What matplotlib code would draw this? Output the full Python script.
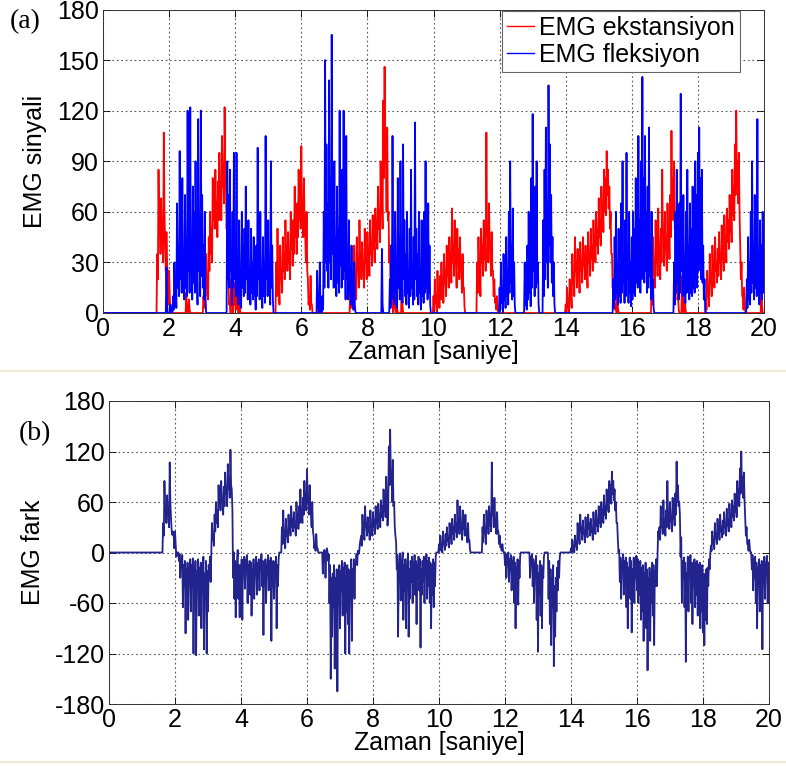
import matplotlib
matplotlib.use('Agg')
import numpy as np
import matplotlib.pyplot as plt

# ---------------- data ----------------
# Each burst is read as pairs: the upper value ("peak") and the lower value ("low")
# of the dense band, every 0.04 s; together they give one sample every 0.02 s.
dt = 0.02
n_samples = 1001
time = np.arange(n_samples) * dt

# extension (red) bursts: start time [s]
ext_starts = [1.60, 2.48, 3.00, 5.20, 6.48, 7.44, 9.00, 9.96, 11.28, 13.96, 16.56, 17.48, 18.20, 19.88]
ext_peaks = [
    [0, 35, 85, 55, 68, 45, 107, 40, 48, 20, 25, 0],
    [0, 12, 0, 8, 0],
    [0, 10, 25, 35, 20, 45, 60, 50, 80, 70, 85, 65, 78, 95, 75, 105, 88, 122, 75, 60,
     15, 8, 20, 5, 18, 10, 15, 5, 12, 0],
    [0, 30, 50, 15, 40, 25, 45, 35, 55, 40, 48, 35, 60, 45, 55, 75, 50, 65, 85, 70,
     99, 65, 80, 45, 60, 20, 10, 22, 5, 0],
    [0, 8, 0, 5, 0],
    [0, 12, 25, 8, 40, 20, 45, 28, 55, 35, 42, 30, 50, 35, 48, 38, 55, 42, 58, 45,
     62, 55, 75, 60, 90, 70, 126, 146, 95, 110, 60, 40, 20, 5, 18, 3, 15, 0],
    [0, 25, 0],
    [0, 10, 20, 8, 25, 12, 22, 30, 18, 35, 25, 40, 30, 45, 35, 62, 40, 55, 30, 50,
     38, 45, 28, 35, 15, 0],
    [0, 30, 45, 25, 50, 40, 55, 45, 107, 50, 65, 40, 48, 25, 20, 8, 10, 0],
    [0, 5, 15, 3, 20, 10, 35, 20, 45, 30, 38, 25, 42, 30, 45, 35, 40, 28, 48, 35,
     50, 40, 55, 45, 60, 50, 68, 55, 75, 65, 85, 80, 96, 85, 75, 60, 35, 20, 10, 5, 12, 0],
    [0, 20, 45, 30, 55, 40, 62, 35, 50, 85, 45, 60, 40, 65, 50, 70, 108, 80, 90, 55, 25, 10, 0],
    [0, 22, 0, 15, 0],
    [0, 8, 25, 12, 35, 20, 40, 28, 45, 30, 38, 48, 35, 52, 40, 58, 45, 62, 55, 70,
     60, 85, 75, 100, 120, 90, 95, 40, 30, 10, 15, 0],
    [0, 20, 0],
]
ext_lows = [
    [0, 20, 50, 35, 45, 30, 60, 25, 30, 5, 10, 0],
    [0, 3, 0, 2, 0],
    [0, 3, 10, 15, 8, 25, 35, 30, 55, 50, 60, 45, 55, 70, 55, 75, 65, 80, 50, 20,
     5, 0, 8, 0, 5, 2, 6, 0, 3, 0],
    [0, 10, 20, 5, 20, 12, 25, 20, 30, 25, 30, 20, 38, 28, 35, 45, 35, 45, 55, 50,
     60, 45, 50, 30, 25, 5, 2, 6, 0, 0],
    [0, 2, 0, 1, 0],
    [0, 3, 10, 2, 20, 8, 25, 15, 30, 20, 25, 15, 30, 20, 30, 22, 35, 28, 38, 30,
     42, 38, 50, 42, 60, 50, 80, 90, 60, 55, 30, 15, 5, 0, 4, 0, 3, 0],
    [0, 5, 0],
    [0, 2, 6, 0, 10, 3, 8, 14, 6, 18, 10, 22, 15, 25, 18, 30, 22, 30, 15, 28,
     20, 25, 12, 15, 3, 0],
    [0, 12, 25, 10, 30, 22, 32, 25, 45, 30, 38, 22, 25, 10, 6, 2, 3, 0],
    [0, 0, 5, 0, 8, 3, 18, 10, 25, 15, 22, 12, 25, 18, 28, 20, 25, 15, 30, 22,
     32, 25, 35, 30, 40, 35, 45, 40, 52, 48, 60, 58, 70, 62, 50, 35, 15, 6, 2, 0, 3, 0],
    [0, 5, 22, 15, 30, 22, 35, 20, 30, 45, 28, 38, 25, 40, 32, 45, 60, 55, 50, 30, 8, 2, 0],
    [0, 5, 0, 3, 0],
    [0, 2, 10, 4, 18, 10, 22, 15, 25, 18, 22, 30, 20, 32, 25, 38, 30, 42, 38, 48,
     42, 58, 55, 70, 75, 65, 60, 20, 10, 2, 4, 0],
    [0, 4, 0],
]

# flexion (blue) bursts
flex_starts = [1.92, 3.72, 6.44, 8.40, 8.64, 11.96, 12.72, 13.28, 15.40, 17.24, 19.44]
flex_peaks = [
    [27, 0, 0, 5, 0, 10, 30, 15, 65, 40, 96, 50, 80, 35, 70, 45, 120, 55, 122, 40,
     75, 60, 90, 30, 115, 50, 120, 70, 40, 60, 0],
    [0, 90, 70, 85, 30, 60, 95, 45, 95, 30, 55, 20, 60, 40, 50, 75, 35, 55, 25, 50,
     30, 45, 15, 40, 98, 35, 60, 20, 45, 30, 105, 40, 55, 25, 90, 40, 0],
    [0, 25, 5, 30, 0, 10, 60, 150, 100, 65, 138, 80, 165, 60, 90, 45, 75, 50, 120, 70,
     85, 120, 40, 105, 35, 55, 25, 40, 10, 30, 0],
    [0, 38, 0],
    [0, 20, 40, 105, 30, 60, 25, 80, 45, 90, 40, 100, 55, 35, 60, 25, 50, 85, 30, 45,
     113, 50, 35, 60, 20, 55, 40, 60, 90, 50, 65, 40, 0],
    [0, 15, 30, 10, 35, 20, 45, 25, 60, 90, 40, 62, 30, 0],
    [0, 30, 15, 40, 60, 25, 80, 118, 50, 75, 90, 30, 0],
    [0, 55, 85, 110, 65, 135, 100, 70, 45, 30, 0],
    [0, 20, 45, 60, 30, 50, 40, 65, 90, 35, 55, 95, 40, 60, 30, 45, 60, 50, 80, 70,
     105, 55, 90, 140, 80, 105, 60, 75, 110, 40, 60, 20, 0],
    [0, 30, 60, 85, 40, 65, 130, 50, 70, 35, 60, 85, 40, 65, 50, 75, 60, 90, 70, 95,
     110, 80, 85, 40, 20, 0],
    [0, 20, 45, 30, 60, 90, 40, 70, 45, 115, 30, 55, 40, 60, 25],
]
flex_lows = [
    [5, 0, 0, 0, 0, 2, 8, 3, 15, 10, 20, 12, 18, 8, 15, 10, 25, 12, 22, 8,
     18, 12, 20, 5, 25, 10, 22, 15, 8, 10, 0],
    [0, 20, 15, 25, 5, 15, 20, 10, 18, 5, 12, 3, 15, 10, 12, 20, 8, 15, 5, 12,
     8, 10, 2, 10, 20, 8, 15, 3, 10, 6, 20, 10, 12, 5, 15, 8, 0],
    [0, 3, 0, 5, 0, 2, 15, 30, 25, 15, 30, 20, 35, 15, 22, 10, 18, 12, 28, 15,
     20, 25, 8, 20, 8, 12, 5, 8, 2, 5, 0],
    [0, 5, 0],
    [0, 3, 8, 20, 5, 12, 3, 15, 8, 18, 6, 20, 10, 5, 12, 3, 10, 15, 5, 8,
     20, 10, 5, 12, 2, 10, 6, 12, 15, 8, 12, 5, 0],
    [0, 2, 6, 0, 8, 3, 10, 5, 12, 18, 8, 10, 4, 0],
    [0, 5, 2, 8, 12, 4, 15, 25, 10, 15, 18, 5, 0],
    [0, 10, 20, 30, 15, 40, 30, 18, 10, 5, 0],
    [0, 3, 8, 12, 5, 10, 6, 12, 18, 6, 10, 20, 6, 12, 4, 8, 12, 10, 18, 15,
     25, 12, 20, 30, 18, 25, 12, 15, 22, 8, 10, 3, 0],
    [0, 5, 12, 18, 8, 12, 25, 10, 15, 6, 12, 18, 8, 12, 10, 15, 12, 20, 15, 25,
     30, 20, 18, 8, 3, 0],
    [0, 3, 8, 5, 12, 18, 8, 15, 10, 20, 5, 12, 8, 12, 5],
]

x_ticks = [0, 2, 4, 6, 8, 10, 12, 14, 16, 18, 20]
y_ticks_a = [0, 30, 60, 90, 120, 150, 180]
y_ticks_b = [-180, -120, -60, 0, 60, 120, 180]


def build(starts, peaks, lows):
    sig = np.zeros(n_samples)
    for s, pk, lo in zip(starts, peaks, lows):
        pair = np.empty(2 * len(pk))
        pair[0::2] = pk
        pair[1::2] = lo
        i0 = int(round(s / dt))
        i1 = min(i0 + len(pair), n_samples)
        sig[i0:i1] = pair[:i1 - i0]
    return sig


ext = build(ext_starts, ext_peaks, ext_lows)
flex = build(flex_starts, flex_peaks, flex_lows)
fark = ext - flex

# ---------------- drawing ----------------
plt.rcParams['font.family'] = ['Liberation Sans', 'DejaVu Sans']
plt.rcParams['axes.unicode_minus'] = False

fig = plt.figure(figsize=(7.86, 7.66), dpi=100)
fig.patch.set_facecolor('white')

ax1 = fig.add_axes([103 / 786, 1 - 313 / 766, 661 / 786, 303.5 / 766])
ax2 = fig.add_axes([109 / 786, 1 - 704 / 766, 660 / 786, 303 / 766])

ax1.plot(time, ext, color=(1, 0, 0), lw=1.3, label='EMG ekstansiyon')
ax1.plot(time, flex, color=(0, 0, 1), lw=1.3, label='EMG fleksiyon')
ax2.plot(time, fark, color='#23238e', lw=1.3)

for ax, yt in ((ax1, y_ticks_a), (ax2, y_ticks_b)):
    ax.set_xlim(0, 20)
    ax.set_ylim(yt[0], yt[-1])
    ax.set_xticks(x_ticks)
    ax.set_yticks(yt)
    ax.grid(True, linestyle=(0, (1.5, 2.5)), color='#555555', linewidth=0.8)
    ax.tick_params(direction='in', length=5, width=0.6, labelsize=18,
                   top=True, right=True, pad=3, colors='black')
    for sp in ax.spines.values():
        sp.set_linewidth(0.7)
        sp.set_color('#333333')
    ax.set_xlabel('Zaman [saniye]', fontsize=18, labelpad=-1)

ax1.set_ylabel('EMG sinyali', fontsize=18, labelpad=7)
ax2.set_ylabel('EMG fark', fontsize=18, labelpad=7)

leg = ax1.legend(loc='upper right', bbox_to_anchor=(0.964, 0.995), borderaxespad=0,
                 fontsize=18, handlelength=1.1, handletextpad=0.2, borderpad=0.2,
                 labelspacing=0.1, fancybox=False, framealpha=1, edgecolor='#666666')
leg.get_frame().set_linewidth(0.8)
for h in leg.get_lines():
    h.set_linewidth(1.0)

fig.text(10 / 786, 1 - 22 / 766, '(a)', family=['Liberation Serif', 'DejaVu Serif'],
         fontsize=20, va='center', ha='left')
fig.text(19 / 786, 1 - 434 / 766, '(b)', family=['Liberation Serif', 'DejaVu Serif'],
         fontsize=20, va='center', ha='left')

# faint separator lines of the original page
fig.add_artist(plt.Line2D([0, 1], [1 - 371 / 766, 1 - 371 / 766], color='#efe9d8', lw=1.5))
fig.add_artist(plt.Line2D([0, 1], [1 - 762 / 766, 1 - 762 / 766], color='#efe9d8', lw=1.5))

fig.savefig('out.png', dpi=100, facecolor='white')
